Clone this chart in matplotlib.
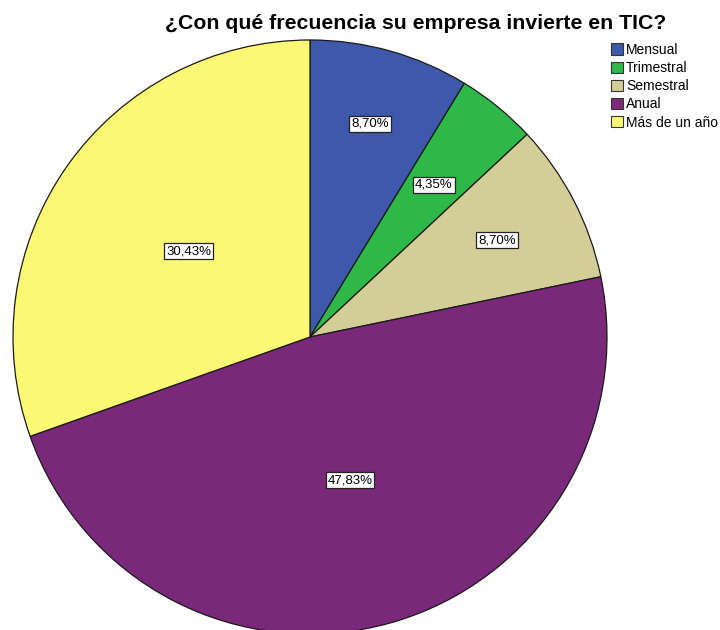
import matplotlib
matplotlib.use("Agg")
import matplotlib.pyplot as plt
from matplotlib.patches import Patch
import numpy as np

categories = ["Mensual", "Trimestral", "Semestral", "Anual", "Más de un año"]
values = [8.70, 4.35, 8.70, 47.83, 30.43]
labels = ["8,70%", "4,35%", "8,70%", "47,83%", "30,43%"]
colors = ["#3e58ac", "#2eb848", "#d3ce97", "#7a287a", "#fbf873"]
label_r = [0.745, 0.66, 0.71, 0.50, 0.50]

plt.rcParams["font.family"] = ["Liberation Sans", "DejaVu Sans"]

fig = plt.figure(figsize=(7.2, 6.3), dpi=100)
ax = fig.add_axes([13 / 720, -4 / 630, 594 / 720, 594 / 630])
wedges, _ = ax.pie(values, colors=colors, startangle=90, counterclock=False,
                   wedgeprops=dict(edgecolor="#1a1a1a", linewidth=0.9))
ax.set_xlim(-1, 1); ax.set_ylim(-1, 1)
ax.set_aspect("equal")
ax.axis("off")

for w, lab, r in zip(wedges, labels, label_r):
    ang = np.deg2rad((w.theta1 + w.theta2) / 2)
    ax.text(r * np.cos(ang), r * np.sin(ang), lab, ha="center", va="center",
            fontsize=9.5, color="black",
            bbox=dict(boxstyle="square,pad=0.15", facecolor="white",
                      edgecolor="#222222", linewidth=0.9))

fig.text(0.577, 0.962, "¿Con qué frecuencia su empresa invierte en TIC?",
         ha="center", va="center", fontsize=15.3, fontweight="bold")

handles = [Patch(facecolor=c, edgecolor="#333333", linewidth=0.8) for c in colors]
fig.legend(handles, categories, loc="upper left", bbox_to_anchor=(0.849, 0.932),
           frameon=False, fontsize=10, handlelength=0.85, handleheight=0.85,
           handletextpad=0.2, labelspacing=0.3, borderaxespad=0, borderpad=0)

fig.savefig("out.png", dpi=100)
